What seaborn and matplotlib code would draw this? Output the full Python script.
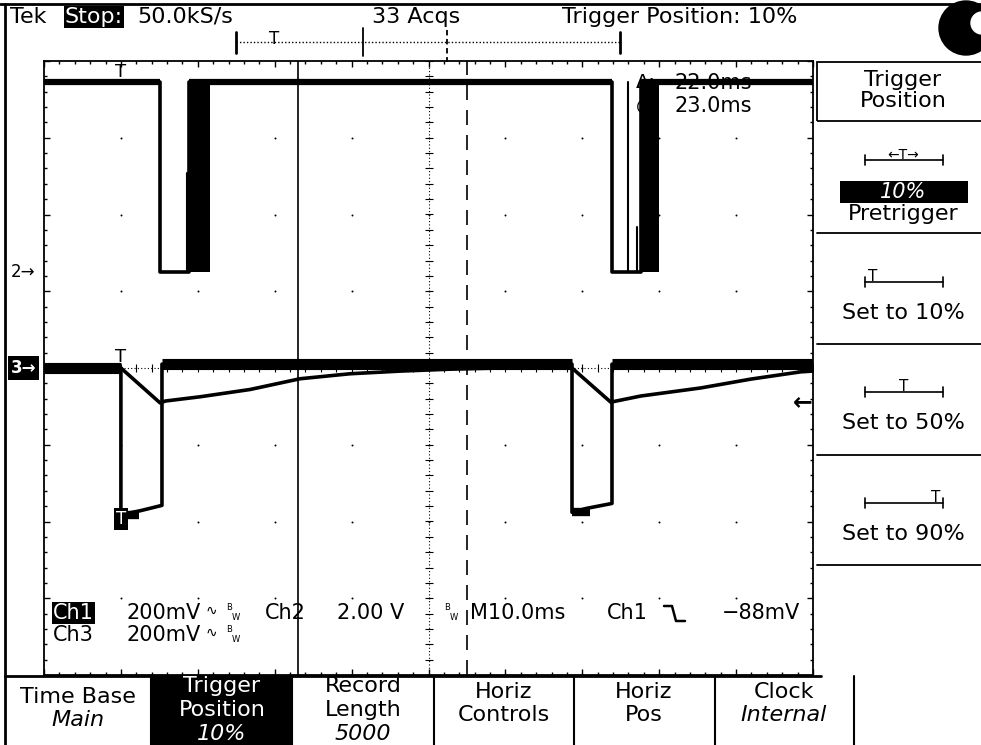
import numpy as np, pandas as pd
import seaborn as sns, matplotlib.pyplot as plt
from matplotlib.lines import Line2D
from matplotlib.patches import Rectangle, Circle
from matplotlib.transforms import IdentityTransform, blended_transform_factory

# scope settings
t_per_div = 10.0      # ms/div
ch1_per_div = 200.0   # mV/div
ch3_per_div = 200.0   # mV/div
ch2_per_div = 2.0     # V/div
ch2_offset = 1.25     # div above centre
trig_pct = 10
trig_level = -88.0    # mV on ch1
cursor_t = 23.0       # ms
cursor_dt = 22.0      # ms

# ch1 (mV)
ch1_t = [-10, 0.0, 0.0, 1.0, 2.5, 5.34, 5.34, 58.66, 58.66, 60.5, 63.86, 63.86, 90]
ch1_v = [0, 0, -383, -378, -372, -358, 10, 10, -376, -366, -353, 10, 10]

# ch3 (mV)
ch3_t = [-10, 0.0, 5.1, 5.8, 10.3, 16.8, 23.3, 29.8, 36.4, 42.9, 49.4, 58.66,
         63.7, 67.6, 75.4, 81.9, 88.4, 90]
ch3_v = [0, 0, -91, -86, -75, -56, -28, -15, -8, -3, 0, 0,
         -89, -73, -52, -29, -10, -8]

# ch2 (V)
ch2_t = [-10, 5.08, 5.08, 8.86, 8.86, 63.86, 63.86, 67.65, 67.65, 90]
ch2_v = [4.95, 4.95, 0, 0, 4.95, 4.95, 0, 0, 4.95, 4.95]
burst_start = [8.86, 67.65]
burst_end = [11.59, 69.97]
glitch_t = [8.6, 65.94, 67.13]
glitch_v = [2.58, 4.95, 1.17]

W, H = 981, 745
sns.set_theme(style="white")
plt.rcParams['font.family'] = ['DejaVu Sans']
plt.rcParams['text.color'] = 'black'

fig = plt.figure(figsize=(W / 100, H / 100), dpi=100)
fig.patch.set_facecolor("white")
PX = IdentityTransform()

def ptext(x, y, s, **kw):
    kw.setdefault("va", "center")
    kw.setdefault("fontsize", 15)
    kw.setdefault("color", "black")
    fig.text(x, H - y, s, transform=PX, **kw)

def pline(xs, ys, **kw):
    kw.setdefault("color", "black")
    kw.setdefault("lw", 1.3)
    fig.add_artist(Line2D(xs, [H - y for y in ys], transform=PX, **kw))

def prect(x0, y0, x1, y1, **kw):
    fig.add_artist(Rectangle((x0, H - y1), x1 - x0, y1 - y0, transform=PX, **kw))

# graticule
gl, gt, gr, gb = 44, 61, 813, 675
ax = fig.add_axes([gl / W, 1 - gb / H, (gr - gl) / W, (gb - gt) / H])
for s in ax.spines.values():
    s.set_color("black")
    s.set_linewidth(1.3)
ax.set_xticks(np.arange(-10, 91, 10))
ax.set_xticks(np.arange(-10, 91, 2), minor=True)
ax.set_yticks(np.arange(-4, 5, 1))
ax.set_yticks(np.arange(-4, 4.01, 0.2), minor=True)
ax.tick_params(which="both", direction="in", top=True, right=True, bottom=True, left=True,
               labelbottom=False, labelleft=False, color="black", width=1)
ax.tick_params(which="major", length=4)
ax.tick_params(which="minor", length=2.5)

xc = 40
ax.axvline(xc, color="black", lw=0.8, ls=(0, (1, 2)), zorder=1)
ax.axhline(0, color="black", lw=0.8, ls=(0, (1, 2)), zorder=1)
ym = np.arange(-4, 4.01, 0.2)
ax.plot(np.full(len(ym), xc), ym, ls="none", marker="_", ms=6, mew=0.8, color="black", zorder=1)
xm = np.arange(-10, 90.01, 2)
ax.plot(xm, np.zeros(len(xm)), ls="none", marker="|", ms=6, mew=0.8, color="black", zorder=1)
gx, gy = np.meshgrid(np.arange(0, 81, 10), np.arange(-3, 4, 1))
ax.scatter(gx.ravel(), gy.ravel(), s=2, color="black", zorder=1, linewidths=0)

# cursors
ax.axvline(cursor_t, color="black", lw=1.2, zorder=2)
ax.axvline(cursor_t + cursor_dt, color="black", lw=1.2, ls=(0, (9, 6)), zorder=2)

# cursor readout (under the traces)
ptext(636, 83, "\u0394:", fontsize=14, zorder=3)
ptext(675, 83, f"{cursor_dt:.1f}ms", fontsize=15, zorder=3)
ptext(636, 106, "@:", fontsize=13, zorder=3)
ptext(675, 106, f"{cursor_t:.1f}ms", fontsize=15, zorder=3)

# traces (in divisions)
d1 = pd.DataFrame({"t": ch1_t, "div": np.array(ch1_v) / ch1_per_div})
d3 = pd.DataFrame({"t": ch3_t, "div": np.array(ch3_v) / ch3_per_div})
d2 = pd.DataFrame({"t": ch2_t, "div": np.array(ch2_v) / ch2_per_div + ch2_offset})

for d in [d3, d1, d2]:
    sns.lineplot(data=d, x="t", y="div", sort=False, estimator=None, color="black",
                 lw=2.6, ax=ax, zorder=4)

# noisy flat parts drawn wider
for d, lim, w in [(d1, 0.25, 8), (d2, 99, 4.5)]:
    vals = d["div"].values
    top = vals.max()
    for i in range(len(d) - 1):
        a, b = vals[i], vals[i + 1]
        flat = (abs(a) < lim and abs(b) < lim) if lim < 10 else (a == top and b == top)
        if flat:
            sns.lineplot(x=d["t"].values[i:i + 2], y=[a, b], sort=False, estimator=None,
                         color="black", lw=w, ax=ax, zorder=4, solid_capstyle="butt")

lo2 = ch2_offset
hi2 = max(ch2_v) / ch2_per_div + ch2_offset
for a, b in zip(burst_start, burst_end):
    ax.fill_between([a, b], lo2, hi2, color="black", lw=0, zorder=4)
for t, v in zip(glitch_t, glitch_v):
    ax.plot([t, t], [lo2, v / ch2_per_div + ch2_offset], color="black", lw=1.5, zorder=4)

# low-side noise on the ch1 pulses
for t0, v in zip([0.0, 58.66], [ch1_v[2], ch1_v[8]]):
    ax.plot([t0, t0 + 2.4], [v / ch1_per_div] * 2, color="black", lw=6, zorder=4,
            solid_capstyle="butt")

ax.set_xlim(-trig_pct / 100 * 10 * t_per_div, (1 - trig_pct / 100) * 10 * t_per_div)
ax.set_ylim(-4, 4)
ax.set_xlabel("")
ax.set_ylabel("")

# trigger point markers
ax.text(0, hi2 + 0.02, "T", ha="center", va="bottom", fontsize=13, zorder=5)
ax.text(0, 0.02, "T", ha="center", va="bottom", fontsize=13, zorder=5)
ax.text(0, ch1_v[2] / ch1_per_div - 0.05, "T", ha="center", va="center", fontsize=12, color="white",
        zorder=6, bbox=dict(facecolor="black", edgecolor="none", pad=1.5))

# channel ground / trigger markers
bt = blended_transform_factory(ax.transAxes, ax.transData)
ax.text(-0.043, ch2_offset, "2\u2192", transform=bt, ha="left", va="center", fontsize=12,
        clip_on=False)
ax.text(-0.043, 0, "3\u2192", transform=bt, ha="left", va="center", fontsize=12, color="white",
        fontweight="bold", clip_on=False, bbox=dict(facecolor="black", edgecolor="none", pad=2))
ax.text(1.0, trig_level / ch1_per_div, "\u2190", transform=bt, ha="right", va="center",
        fontsize=17, fontweight="bold", clip_on=False, zorder=6)

# bottom readout inside graticule
ptext(53, 613, "Ch1", color="white", bbox=dict(facecolor="black", edgecolor="none", pad=1))
ptext(127, 613, "200mV")
ptext(206, 611, "\u223f", fontsize=10)
ptext(226, 607, "B", fontsize=6)
ptext(232, 617, "W", fontsize=6)
ptext(265, 613, "Ch2")
ptext(337, 613, "2.00 V")
ptext(444, 607, "B", fontsize=6)
ptext(450, 617, "W", fontsize=6)
ptext(470, 613, "M10.0ms")
ptext(607, 613, "Ch1")
pline([664, 672, 676, 685], [606, 606, 621, 621], lw=1.8)
ptext(722, 613, "\u221288mV")
ptext(53, 635, "Ch3")
ptext(127, 635, "200mV")
ptext(206, 633, "\u223f", fontsize=10)
ptext(226, 629, "B", fontsize=6)
ptext(232, 639, "W", fontsize=6)

# outer frame
pline([0, W], [4, 4], lw=2)
pline([5, 5], [4, H], lw=2)

# top status line
ptext(10, 17, "Tek", fontsize=16)
ptext(65, 17, "Stop:", fontsize=16, color="white", bbox=dict(facecolor="black", edgecolor="none", pad=1))
ptext(137, 17, "50.0kS/s", fontsize=16)
ptext(372, 17, "33 Acqs", fontsize=16)
ptext(562, 17, "Trigger Position: 10%", fontsize=16)

# record bar
bx0, bx1, by = 236, 620, 42
pline([bx0, bx1], [by, by], lw=1, ls=(0, (1, 1.5)))
pline([bx0, bx0], [32, 53], lw=2)
pline([bx1, bx1], [32, 53], lw=2)
rec = lambda t: bx0 + (t + 10) / 100 * (bx1 - bx0)
ptext(rec(0), by + 2, "T", fontsize=12, ha="center", va="baseline")
pline([rec(cursor_t), rec(cursor_t)], [28, 56], lw=1.3)
pline([rec(cursor_t + cursor_dt)] * 2, [30, 62], lw=1.3, ls=(0, (3, 2)))

# logo
fig.add_artist(Circle((966, H - 28), 27, transform=PX, color="black"))
fig.add_artist(Circle((982, H - 23), 11, transform=PX, color="white"))

# right menu
mx0, mx1, mc = 817, 981, 903
prect(mx0, 62, mx1 + 5, 121, facecolor="none", edgecolor="black", lw=1.3)
ptext(mc, 80, "Trigger", ha="center", fontsize=16)
ptext(mc, 101, "Position", ha="center", fontsize=16)
for y in [233, 344, 455, 565]:
    pline([mx0, mx1], [y, y], lw=1.3)

def tbar(y, frac, lab=None):
    pline([865, 943], [y, y], lw=1.2)
    pline([865, 865], [y - 5, y + 5], lw=1.2)
    pline([943, 943], [y - 5, y + 5], lw=1.2)
    if lab is None:
        ptext(865 + frac * 78, y - 1, "T", ha="center", va="baseline", fontsize=11)
    else:
        ptext(mc, y - 1, lab, ha="center", va="baseline", fontsize=10)

tbar(160, 0.5, "\u2190T\u2192")
prect(840, 181, 968, 203, facecolor="black", edgecolor="none")
ptext(mc, 192, "10%", ha="center", fontsize=15, style="italic", color="white")
ptext(mc, 214, "Pretrigger", ha="center", fontsize=16)
for y, f in [(282, 0.1), (392, 0.5), (503, 0.9)]:
    tbar(y, f)
    ptext(mc, y + 31, f"Set to {int(f * 100)}%", ha="center", fontsize=16)

# bottom menu
pline([5, 821], [676, 676], lw=2)
for x in [151, 292, 434, 574, 715, 854]:
    pline([x, x], [676, H], lw=1.5)
prect(152, 677, 292, H, facecolor="black", edgecolor="none")
menu = [
    (78, [("Time Base", 697, "normal"), ("Main", 720, "italic")], "black"),
    (222, [("Trigger", 686, "normal"), ("Position", 710, "normal"), ("10%", 734, "italic")], "white"),
    (363, [("Record", 686, "normal"), ("Length", 710, "normal"), ("5000", 734, "italic")], "black"),
    (504, [("Horiz", 692, "normal"), ("Controls", 715, "normal")], "black"),
    (644, [("Horiz", 692, "normal"), ("Pos", 715, "normal")], "black"),
    (784, [("Clock", 692, "normal"), ("Internal", 715, "italic")], "black"),
]
for cx, lines, col in menu:
    for s, y, st in lines:
        ptext(cx, y, s, ha="center", fontsize=16, style=st, color=col)

fig.savefig("out.png", dpi=100, facecolor="white")
